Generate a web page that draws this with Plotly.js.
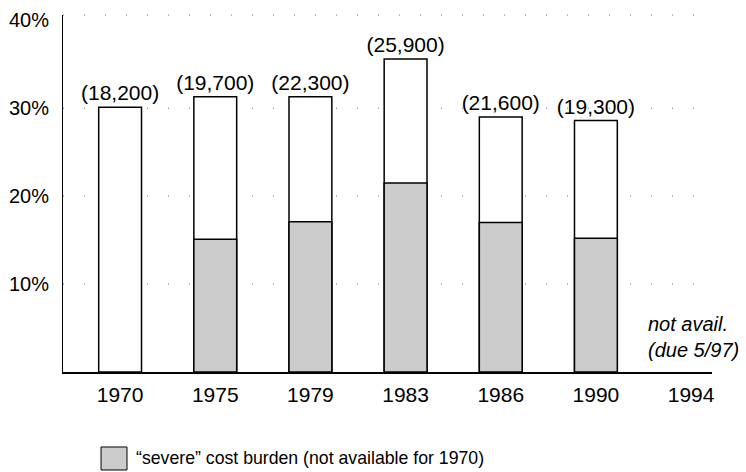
<!DOCTYPE html>
<html>
<head>
<meta charset="utf-8">
<script src="https://cdn.plot.ly/plotly-3.0.1.min.js"></script>
<style>html,body{margin:0;padding:0;background:#fff;}#chart{width:746px;height:472px;}</style>
</head>
<body>
<div id="chart"></div>
<script>
const years = ['1970','1975','1979','1983','1986','1990','1994'];
const totalBurden = [30.1, 31.3, 31.3, 35.6, 29.0, 28.6, null];
const severeBurden = [null, 15.1, 17.1, 21.5, 17.0, 15.2, null];
const households = ['(18,200)','(19,700)','(22,300)','(25,900)','(21,600)','(19,300)',''];
const yTicks = [10, 20, 30, 40];
const yTickText = ['10%','20%','30%','40%'];
const gridLevels = [10, 20, 30];
const legendLabel = '\u201csevere\u201d cost burden (not available for 1970)';
const noteText = '<i>not avail.</i><br><i>(due 5/97)</i>';

const FONT = 'Arial, "Liberation Sans", Helvetica, sans-serif';

const traces = [
  {
    type: 'bar', x: years, y: totalBurden, width: 0.45,
    marker: {color: '#ffffff', line: {color: '#000000', width: 1.5}},
    text: households, textposition: 'outside', constraintext: 'none', cliponaxis: false,
    textfont: {family: FONT, size: 21, color: '#000'},
    hoverinfo: 'none', showlegend: false
  },
  {
    type: 'bar', x: years, y: severeBurden, width: 0.45,
    marker: {color: '#cccccc', line: {color: '#000000', width: 1.5}},
    hoverinfo: 'none', showlegend: false, name: legendLabel
  }
];

const shapes = gridLevels.map(v => ({
  type: 'line', xref: 'paper', yref: 'y', x0: 0, x1: 1, y0: v, y1: v,
  line: {color: '#777', width: 1, dash: '1px,20px'}, layer: 'below'
}));
shapes.push({
  type: 'line', xref: 'paper', yref: 'paper', x0: 0, x1: 1, y0: 1, y1: 1,
  line: {color: '#777', width: 1, dash: '1px,20px'}, layer: 'below'
});
shapes.push({
  type: 'rect', xref: 'paper', yref: 'paper', x0: 0.0586, x1: 0.0986, y0: -0.2745, y1: -0.210,
  fillcolor: '#cccccc', line: {color: '#000', width: 1}
});

const layout = {
  width: 746, height: 472,
  margin: {l: 63, r: 34, t: 15, b: 100},
  paper_bgcolor: '#fff', plot_bgcolor: '#fff',
  barmode: 'overlay',
  font: {family: FONT, color: '#000'},
  xaxis: {
    type: 'category', range: [-0.6, 6.22], showgrid: false, zeroline: false,
    showline: true, linecolor: '#000', linewidth: 1.5, ticks: '',
    tickfont: {family: FONT, size: 21, color: '#000'}, ticklabelstandoff: 3
  },
  yaxis: {
    range: [0, 40.6], showgrid: false, zeroline: false,
    showline: true, linecolor: '#000', linewidth: 1, ticks: '',
    tickvals: yTicks, ticktext: yTickText,
    tickfont: {family: FONT, size: 20, color: '#000'}, ticklabelstandoff: 9
  },
  shapes: shapes,
  annotations: [
    {
      xref: 'paper', yref: 'paper', x: 0.11, y: -0.241, xanchor: 'left', yanchor: 'middle',
      text: legendLabel, showarrow: false, font: {family: FONT, size: 17.7, color: '#000'}
    },
    {
      xref: 'paper', yref: 'paper', x: 1.044, y: 0.025, xanchor: 'right', yanchor: 'bottom',
      align: 'left',
      text: noteText, showarrow: false, font: {family: FONT, size: 20, color: '#000'}
    }
  ]
};

Plotly.newPlot('chart', traces, layout, {displayModeBar: false, staticPlot: true});
</script>
</body>
</html>
